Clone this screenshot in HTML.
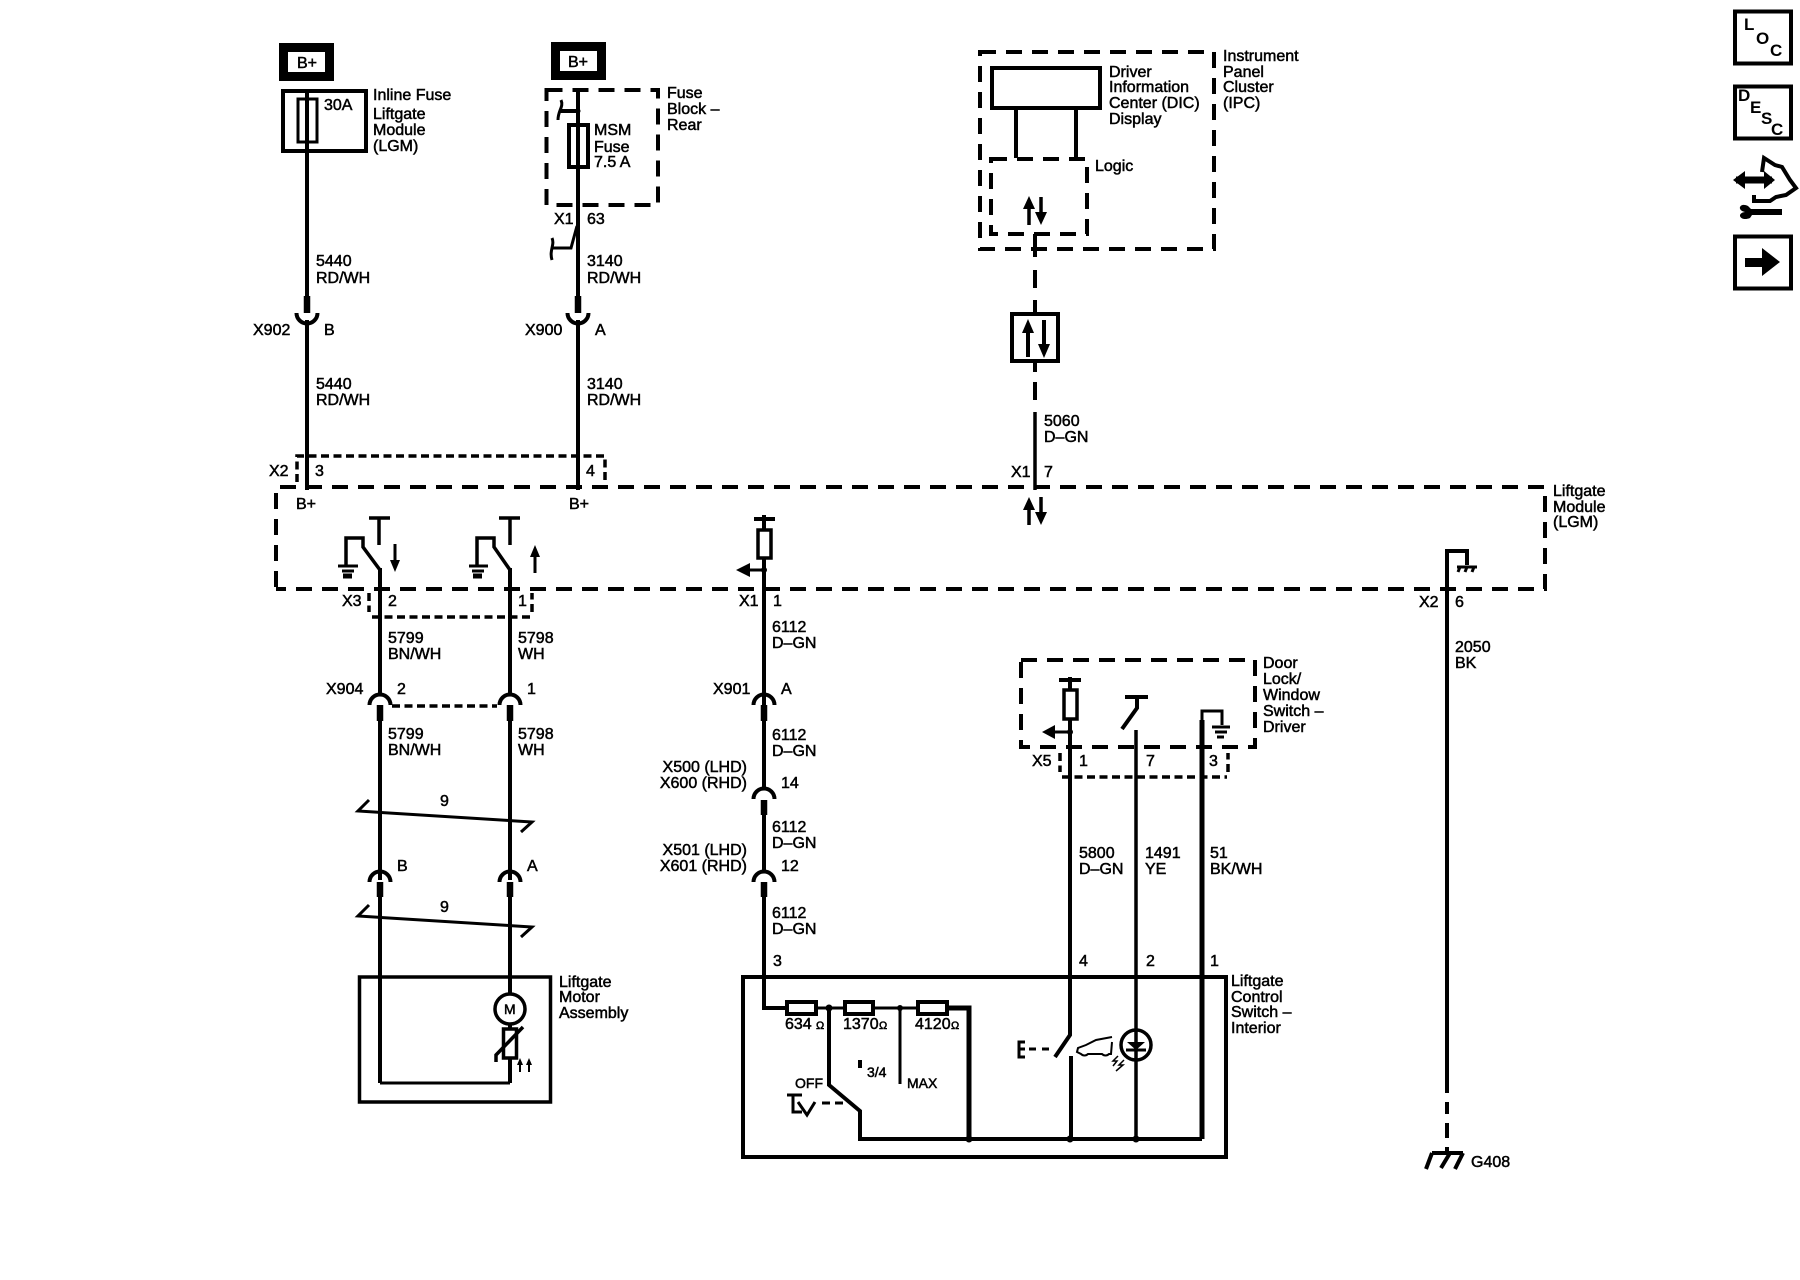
<!DOCTYPE html>
<html><head><meta charset="utf-8"><style>
html,body{margin:0;padding:0;background:#fff}
svg{display:block}
text{font-family:"Liberation Sans",sans-serif;font-size:16px;fill:#000;stroke:#000;stroke-width:.5}
.s{font-size:14px}
.o{font-size:11px}
.i{font-size:17px;font-weight:bold;stroke:none}
path,rect,circle,line{fill:none;stroke:#000;stroke-width:4}
.t3{stroke-width:3}.t5{stroke-width:5}.t6{stroke-width:6.5}
.d{stroke-dasharray:16 10}
.m{stroke-dasharray:8 4.5;stroke-width:3.5}
.f{fill:#000;stroke:none}
</style></head><body>
<svg width="1800" height="1280" viewBox="0 0 1800 1280" xmlns="http://www.w3.org/2000/svg">
<!-- B+ -->
<rect x="283.500" y="47.500" width="46" height="29" style="stroke-width:9"/>
<rect x="555.500" y="46.500" width="46" height="29" style="stroke-width:9"/>
<text x="297" y="68">B+</text><text x="568" y="67">B+</text>
<!-- inline fuse -->
<rect x="283" y="91" width="83" height="60"/>
<rect x="298" y="99" width="19" height="43" class="t3"/>
<path d="M307 89V297"/><path d="M307 296V313" class="t6"/>
<path d="M296.500 313A10.500 10.500 0 0 0 317.500 313"/><path d="M307 320V490"/>
<text x="324" y="110">30A</text>
<text x="373" y="100">Inline Fuse</text><text x="373" y="119">Liftgate</text><text x="373" y="135">Module</text><text x="373" y="151">(LGM)</text>
<text x="316" y="266">5440</text><text x="316" y="283">RD/WH</text>
<text x="253" y="335">X902</text><text x="324" y="335">B</text>
<text x="316" y="389">5440</text><text x="316" y="405">RD/WH</text>
<!-- fuse block -->
<path d="M546.500 90H658V205H546.500Z" class="d"/>
<path d="M578 88V297"/><path d="M578 296V313" class="t6"/>
<path d="M567.500 313A10.500 10.500 0 0 0 588.500 313"/><path d="M578 320V490"/>
<rect x="569" y="125" width="19" height="42"/>
<path d="M578 111H560"/><path d="M561 100C564 107 558 110 558 120" class="t3"/>
<circle cx="578" cy="111" r="2.500" class="f"/>
<path d="M577 226L571 248H552" class="t3"/><path d="M552 238C555 245 549 250 552 260" class="t3"/>
<text x="594" y="135">MSM</text><text x="594" y="152">Fuse</text><text x="594" y="167">7.5 A</text>
<text x="667" y="98">Fuse</text><text x="667" y="114">Block –</text><text x="667" y="130">Rear</text>
<text x="554" y="224">X1</text><text x="587" y="224">63</text>
<text x="587" y="266">3140</text><text x="587" y="283">RD/WH</text>
<text x="525" y="335">X900</text><text x="595" y="335">A</text>
<text x="587" y="389">3140</text><text x="587" y="405">RD/WH</text>
<!-- IPC -->
<path d="M980 52H1214V249H980Z" class="d"/>
<rect x="992" y="68" width="108" height="40"/>
<path d="M1016 108V158M1076 108V158"/>
<path d="M991 159H1087V234H991Z" class="d"/>
<path d="M1029 225V204M1041 197V218" style="stroke-width:3.500"/>
<path d="M1029 196L1023 209H1035ZM1041 225L1035 212H1047Z" class="f"/>
<path d="M1035 234V257M1035 270V288M1035 300V313M1035 362V372M1035 382V400"/>
<path d="M1035 412V490" style="stroke-width:3.500"/>
<rect x="1012" y="314" width="46" height="47"/>
<path d="M1028 357V328M1044 320V348"/>
<path d="M1028 319L1022 333H1034ZM1044 358L1038 344H1050Z" class="f"/>
<text x="1109" y="77">Driver</text><text x="1109" y="92">Information</text><text x="1109" y="108">Center (DIC)</text><text x="1109" y="124">Display</text>
<text x="1223" y="61">Instrument</text><text x="1223" y="77">Panel</text><text x="1223" y="92">Cluster</text><text x="1223" y="108">(IPC)</text>
<text x="1095" y="171">Logic</text>
<text x="1044" y="426">5060</text><text x="1044" y="442">D–GN</text>
<text x="1011" y="477">X1</text><text x="1044" y="477">7</text>
<!-- X2 sub-box -->
<path d="M297 482V456H605V482" class="m"/>
<text x="269" y="476">X2</text><text x="315" y="476">3</text><text x="586" y="476">4</text>
<!-- module -->
<path d="M276 587V487H1545V589H276" class="d"/>
<text x="296" y="509">B+</text><text x="569" y="509">B+</text>
<text x="1553" y="496">Liftgate</text><text x="1553" y="512">Module</text><text x="1553" y="527">(LGM)</text>
<path d="M1029 505V525M1041 497V516" style="stroke-width:3.500"/>
<path d="M1029 497L1023 510H1035ZM1041 525L1035 512H1047Z" class="f"/>
<!-- switches -->
<path d="M369 518H390M379 518V545M346 566V538H363V547L380 570" style="stroke-width:3.500"/>
<path d="M338 566H358M342 571H354" class="t3"/><path d="M343 576H352" class="t5"/>
<path d="M395 544V562" class="t3"/><path d="M395 572L390 560H400Z" class="f"/>
<path d="M380 568V695"/><path d="M380 705V721" class="t6"/>
<path d="M369.500 705A10.500 10.500 0 0 1 390.500 705"/><path d="M380 720V880"/>
<path d="M499 518H520M510 518V545M477 566V538H494V547L510 570" style="stroke-width:3.500"/>
<path d="M469 566H488M472 571H484" class="t3"/><path d="M473 576H482" class="t5"/>
<path d="M535 573V555" class="t3"/><path d="M535 545L530 557H540Z" class="f"/>
<path d="M510 568V695"/><path d="M510 705V721" class="t6"/>
<path d="M499.500 705A10.500 10.500 0 0 1 520.500 705"/><path d="M510 720V880"/>
<path d="M369 593V612M372 617H530M532 612V593" class="m"/>
<path d="M392 706H497" class="m"/>
<text x="342" y="606">X3</text><text x="388" y="606">2</text><text x="518" y="606">1</text>
<text x="388" y="643">5799</text><text x="388" y="659">BN/WH</text>
<text x="518" y="643">5798</text><text x="518" y="659">WH</text>
<text x="326" y="694">X904</text><text x="397" y="694">2</text><text x="527" y="694">1</text>
<text x="388" y="739">5799</text><text x="388" y="755">BN/WH</text>
<text x="518" y="739">5798</text><text x="518" y="755">WH</text>
<!-- ref lines -->
<path d="M369 800L358 811L532 822L521 832" style="stroke-width:3"/>
<text x="440" y="806">9</text>
<path d="M369 905L358 916L532 927L521 937" style="stroke-width:3"/>
<text x="440" y="912">9</text>
<path d="M369.500 882A10.500 10.500 0 0 1 390.500 882M499.500 882A10.500 10.500 0 0 1 520.500 882"/>
<path d="M380 882V897M510 882V897" class="t6"/>
<text x="397" y="871">B</text><text x="527" y="871">A</text>
<!-- motor -->
<rect x="359.500" y="977" width="191" height="125" style="stroke-width:3.500"/>
<path d="M380 895V1083M510 1083V1058M510 1029V1025"/><path d="M380 1083H510" class="t3"/>
<circle cx="510" cy="1009" r="15" style="stroke-width:3.500"/>
<path d="M510 895V994"/>
<text x="504" y="1014" class="s">M</text>
<rect x="503.500" y="1029" width="13" height="29" style="stroke-width:3.500"/>
<path d="M496 1062V1055L523 1027" style="stroke-width:3.500"/>
<path d="M520 1072V1062M529 1072V1062" style="stroke-width:2"/>
<path d="M520 1058L517 1065H523ZM529 1058L526 1065H532Z" class="f"/>
<text x="559" y="987">Liftgate</text><text x="559" y="1002">Motor</text><text x="559" y="1018">Assembly</text>
<!-- wire C -->
<path d="M754 519H775M764 515V529M764 558V721"/>
<rect x="758" y="530" width="13" height="28" style="stroke-width:3.500"/>
<path d="M748 570H764" class="t3"/><path d="M736 570L750 563V577Z" class="f"/><circle cx="764" cy="570" r="3" class="f"/>
<text x="739" y="606">X1</text><text x="773" y="606">1</text>
<text x="772" y="632">6112</text><text x="772" y="648">D–GN</text>
<text x="713" y="694">X901</text><text x="781" y="694">A</text>
<path d="M753.500 705A10.500 10.500 0 0 1 774.500 705M753.500 799A10.500 10.500 0 0 1 774.500 799M753.500 882A10.500 10.500 0 0 1 774.500 882"/>
<path d="M764 705V721M764 800V815M764 882V897" class="t6"/>
<path d="M764 720V790M764 814V872M764 895V1008H786"/>
<text x="772" y="740">6112</text><text x="772" y="756">D–GN</text>
<text x="747" y="772" text-anchor="end">X500 (LHD)</text><text x="747" y="788" text-anchor="end">X600 (RHD)</text><text x="781" y="788">14</text>
<text x="772" y="832">6112</text><text x="772" y="848">D–GN</text>
<text x="747" y="855" text-anchor="end">X501 (LHD)</text><text x="747" y="871" text-anchor="end">X601 (RHD)</text><text x="781" y="871">12</text>
<text x="772" y="918">6112</text><text x="772" y="934">D–GN</text>
<text x="773" y="966">3</text>
<!-- control box -->
<rect x="743" y="977" width="483" height="180"/>
<text x="1231" y="986">Liftgate</text><text x="1231" y="1002">Control</text><text x="1231" y="1017">Switch –</text><text x="1231" y="1033">Interior</text>
<rect x="787" y="1002" width="29" height="12"/>
<rect x="845" y="1002" width="28" height="12"/>
<rect x="918" y="1002" width="29" height="12"/>
<path d="M817 1008H845M873 1008H918" class="t3"/>
<path d="M947 1008H969V1139" class="t5"/>
<circle cx="829" cy="1008" r="3.500" class="f"/><circle cx="900" cy="1008" r="3" class="f"/>
<path d="M829 1008V1085L860 1111V1139H1202"/>
<path d="M900 1008V1084" class="t3"/>
<path d="M860 1060V1068" style="stroke-width:4"/>
<text x="785" y="1029">634</text><text x="816" y="1029" class="o">Ω</text>
<text x="843" y="1029">1370</text><text x="879" y="1029" class="o">Ω</text>
<text x="915" y="1029">4120</text><text x="951" y="1029" class="o">Ω</text>
<text x="867" y="1077" class="s">3/4</text><text x="907" y="1088" class="s">MAX</text>
<text x="795" y="1088" class="s">OFF</text>
<path d="M787 1095H802M793 1095V1112H802M798 1102L807 1115L815 1102" style="stroke-width:3"/>
<path d="M822 1103H830M835 1103H843" style="stroke-width:3"/>
<circle cx="969" cy="1139" r="3.500" class="f"/><circle cx="1070" cy="1139" r="3.500" class="f"/><circle cx="1136" cy="1139" r="3.500" class="f"/>
<!-- door switch -->
<path d="M1021 660H1255V747H1021Z" class="d"/>
<path d="M1059 680H1081"/><path d="M1070 677V690"/>
<rect x="1064" y="690" width="13" height="29" style="stroke-width:3.500"/>
<path d="M1070 719V1035L1055 1057"/><path d="M1071 1056V1139"/>
<path d="M1055 732H1070" class="t3"/><path d="M1042 732L1055 725V739Z" class="f"/><circle cx="1070" cy="732" r="3" class="f"/>
<path d="M1125 697H1148M1137 697V708L1122 729"/>
<path d="M1136 730V1139" style="stroke-width:3.500"/>
<path d="M1202 747V711H1222V725" class="t3"/><path d="M1202 720V1139" class="t5"/>
<path d="M1212 727H1230M1215 732H1227" class="t3"/><path d="M1217 737H1224" class="t3"/>
<path d="M1060 753V772M1062 777H1227M1228 772V753" class="m"/>
<text x="1032" y="766">X5</text><text x="1079" y="766">1</text><text x="1146" y="766">7</text><text x="1209" y="766">3</text>
<text x="1079" y="858">5800</text><text x="1079" y="874">D–GN</text>
<text x="1145" y="858">1491</text><text x="1145" y="874">YE</text>
<text x="1210" y="858">51</text><text x="1210" y="874">BK/WH</text>
<text x="1079" y="966">4</text><text x="1146" y="966">2</text><text x="1210" y="966">1</text>
<text x="1263" y="668">Door</text><text x="1263" y="684">Lock/</text><text x="1263" y="700">Window</text><text x="1263" y="716">Switch –</text><text x="1263" y="732">Driver</text>
<!-- actuator + car + lamp -->
<path d="M1025 1042H1019V1057H1025M1019 1049H1025M1029 1049H1036M1042 1049H1049" style="stroke-width:3"/>
<path d="M1112 1037L1096 1040L1086 1045L1078 1048L1077 1052L1081 1054C1083 1056 1086 1056 1088 1054H1102C1104 1056 1107 1056 1109 1054H1111L1112 1042" style="stroke-width:2"/>
<circle cx="1136" cy="1045" r="15" style="stroke-width:3.500"/>
<path d="M1127 1042H1145L1136 1050Z" class="f"/><path d="M1126 1050H1146" style="stroke-width:3"/>
<path d="M1118 1056L1113 1061H1117L1113 1066M1124 1060L1119 1065H1123L1116 1071" style="stroke-width:1.500"/>
<!-- ground wire -->
<path d="M1467 565V551H1447V1093M1447 1102V1114M1447 1123V1138M1447 1147V1153"/>
<path d="M1457 567H1477" class="t3"/>
<path d="M1460 567L1458 572M1467 567L1465 572M1474 567L1472 572" class="t3"/>
<text x="1419" y="607">X2</text><text x="1455" y="607">6</text>
<text x="1455" y="652">2050</text><text x="1455" y="668">BK</text>
<path d="M1432 1153H1463M1432 1153L1426 1169M1450 1153L1441 1168M1463 1153L1455 1169"/>
<text x="1471" y="1167">G408</text>
<!-- side icons -->
<rect x="1735" y="11.500" width="56" height="52"/>
<text x="1744" y="30" class="i">L</text><text x="1756" y="44" class="i">O</text><text x="1770" y="56" class="i">C</text>
<rect x="1735" y="86.500" width="56" height="52"/>
<text x="1738" y="101" class="i">D</text><text x="1750" y="113" class="i">E</text><text x="1761" y="124" class="i">S</text><text x="1771" y="135" class="i">C</text>
<path d="M1736 180H1772" style="stroke-width:7"/>
<path d="M1733 180L1745 171V189ZM1775 180L1764 171V189Z" class="f"/>
<path d="M1762 172L1764 158L1775 165L1782 167L1790 180L1796 188L1786 195L1776 197L1770 201H1754V195"/>
<path d="M1746 212H1782" style="stroke-width:6"/>
<path d="M1748 206C1740 202 1736 210 1745 212C1736 213 1740 222 1750 218L1754 212Z" class="f"/>
<rect x="1735" y="236.500" width="56" height="52"/>
<path d="M1745 258H1763V267H1745ZM1762 248L1780 262L1762 276Z" class="f"/>
</svg>
</body></html>
